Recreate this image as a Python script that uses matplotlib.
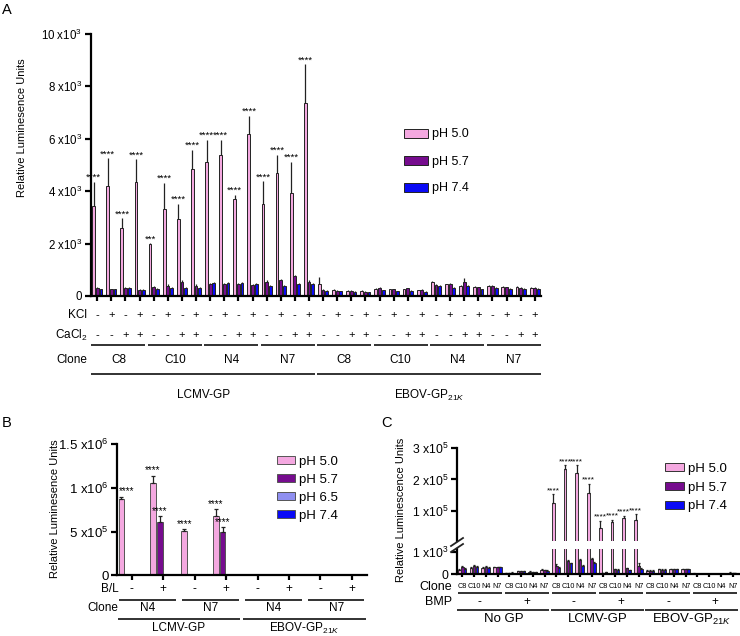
import matplotlib
matplotlib.use('Agg')
import matplotlib.pyplot as plt
import matplotlib.transforms as mtransforms
import numpy as np

plt.rcParams['font.family'] = 'Liberation Sans'
plt.rcParams['mathtext.fontset'] = 'custom'
plt.rcParams['mathtext.rm'] = 'Liberation Sans'
plt.rcParams['mathtext.it'] = 'Liberation Sans:italic'
plt.rcParams['mathtext.bf'] = 'Liberation Sans:bold'

W, H = 740, 636

PINK = '#f4a8e0'
PURPLE = '#760c8e'
PERI = '#8f8ff0'
BLUE = '#0a0af5'

# ---------------- panel A data (RLU) ----------------
a_kcl = ['-', '+', '-', '+']
a_cacl = ['-', '-', '+', '+']
a_clones = ['C8', 'C10', 'N4', 'N7', 'C8', 'C10', 'N4', 'N7']
a_gp = ['LCMV-GP', r'EBOV-GP$_{21K}$']
a_ph50 = [3430, 4200, 2610, 4360, 1990, 3310, 2920, 4840,
          5100, 5400, 3720, 6180, 3500, 4710, 3950, 7360,
          440, 230, 200, 190, 280, 250, 250, 220,
          530, 440, 380, 360, 380, 360, 360, 320]
a_ph50_err = [930, 1050, 350, 850, 20, 1010, 610, 730,
              850, 550, 130, 690, 880, 670, 1170, 1480,
              300, 20, 20, 20, 30, 20, 30, 20,
              30, 30, 30, 30, 30, 30, 30, 30]
a_ph57 = [300, 250, 300, 220, 350, 400, 550, 400,
          450, 450, 450, 420, 550, 600, 750, 550,
          230, 200, 200, 170, 320, 250, 290, 230,
          420, 440, 550, 330, 380, 330, 320, 320]
a_ph57_err = [40, 30, 40, 30, 40, 40, 60, 40,
              40, 40, 40, 40, 50, 60, 60, 50,
              30, 20, 20, 20, 30, 30, 30, 20,
              40, 40, 120, 30, 30, 30, 30, 30]
a_ph74 = [250, 250, 300, 220, 280, 320, 300, 300,
          480, 480, 500, 450, 380, 400, 450, 450,
          200, 180, 170, 150, 220, 180, 200, 170,
          380, 320, 380, 250, 300, 270, 270, 270]
a_ph74_err = [30, 30, 40, 30, 30, 30, 30, 30,
              40, 40, 40, 40, 30, 30, 30, 30,
              20, 20, 20, 20, 20, 20, 20, 20,
              30, 30, 30, 30, 30, 30, 30, 30]
a_stars = ['****', '****', '****', '****', '***', '****', '****', '****',
           '****', '****', '****', '****', '****', '****', '****', '****']

# ---------------- panel B data (RLU) ----------------
b_bl = ['-', '+', '-', '+', '-', '+', '-', '+']
b_clones = ['N4', 'N7', 'N4', 'N7']
b_gp = ['LCMV-GP', r'EBOV-GP$_{21K}$']
b_ph50 = [868000, 1059000, 506000, 678000, 1500, 1500, 1500, 1500]
b_ph50_err = [32000, 81000, 24000, 76000, 0, 0, 0, 0]
b_ph57 = [1500, 609000, 1500, 499000, 1000, 1000, 1000, 1000]
b_ph57_err = [0, 69000, 0, 49000, 0, 0, 0, 0]
b_ph65 = [1500, 4000, 1500, 2500, 1000, 1500, 1000, 1500]
b_ph65_err = [0, 0, 0, 0, 0, 0, 0, 0]
b_ph74 = [2000, 4000, 4000, 4000, 5000, 2000, 5000, 3000]
b_ph74_err = [0, 0, 0, 0, 0, 0, 0, 0]
b_stars50 = ['****', '****', '****', '****', '', '', '', '']
b_stars57 = ['', '****', '', '****', '', '', '', '']

# ---------------- panel C data (RLU) ----------------
c_clones = ['C8', 'C10', 'N4', 'N7']
c_bmp = ['-', '+', '-', '+', '-', '+']
c_gp = ['No GP', 'LCMV-GP', r'EBOV-GP$_{21K}$']
c_ph50 = [190, 290, 290, 310, 70, 130, 110, 210,
          126000, 232000, 220000, 157000, 46000, 66000, 78000, 72000,
          160, 230, 230, 230, 30, 20, 10, 80]
c_ph50_err = [40, 30, 30, 30, 10, 20, 20, 20,
              28000, 13000, 24000, 30000, 24000, 7000, 8000, 19000,
              20, 20, 20, 20, 10, 10, 5, 20]
c_ph57 = [320, 390, 330, 310, 70, 140, 100, 190,
          360, 610, 670, 710, 70, 240, 270, 360,
          160, 210, 230, 230, 20, 20, 10, 60]
c_ph57_err = [40, 30, 30, 30, 10, 20, 20, 20,
              90, 40, 30, 40, 10, 20, 20, 140,
              20, 20, 20, 20, 5, 5, 5, 20]
c_ph74 = [260, 340, 300, 310, 80, 140, 100, 160,
          290, 500, 400, 530, 100, 210, 190, 260,
          160, 210, 230, 230, 10, 20, 10, 40]
c_ph74_err = [30, 30, 30, 30, 10, 20, 20, 20,
              30, 30, 30, 40, 10, 20, 20, 30,
              20, 20, 20, 20, 5, 5, 5, 10]
c_stars = ['', '', '', '', '', '', '', '',
           '****', '****', '****', '****', '****', '****', '****', '****',
           '', '', '', '', '', '', '', '']

fig = plt.figure(figsize=(W / 100, H / 100), dpi=100)


def add_axes(left, top, right, bottom):
    return fig.add_axes([left / W, 1 - bottom / H, (right - left) / W, (bottom - top) / H])


def style(ax, lw=1.6):
    for s in ('top', 'right'):
        ax.spines[s].set_visible(False)
    ax.spines['left'].set_linewidth(lw)
    ax.spines['bottom'].set_linewidth(lw)
    ax.tick_params(width=lw, length=4, labelsize=9, direction='out', pad=2)
    ax.tick_params(axis='x', labelbottom=False, length=3.5)


def grouped_bars(ax, x, series, colors, offsets, width, edge, capsize):
    handles = []
    for (vals, err), col, off in zip(series, colors, offsets):
        err = np.asarray(err, dtype=float)
        h = ax.bar(x + off, vals, width, color=col, edgecolor=edge, linewidth=0.7,
                   yerr=[np.zeros_like(err), err],
                   error_kw=dict(ecolor='#222222', elinewidth=0.9,
                                 capsize=capsize, capthick=0.9))
        handles.append(h)
    return handles


def stars(ax, xs, vals, errs, labels, size=7, dx=0):
    for xx, v, e, lab in zip(xs, vals, errs, labels):
        if lab:
            ax.annotate(lab, (xx, v + e), xytext=(dx, 0), textcoords='offset points',
                        ha='center', va='bottom', fontsize=size, annotation_clip=False)


def below(ax, x, ypix, s, **kw):
    tr = mtransforms.blended_transform_factory(ax.transData, fig.transFigure)
    ax.text(x, 1 - ypix / H, s, transform=tr, ha='center', va='center', clip_on=False, **kw)


def bracket(ax, x0, x1, ypix, lw=1.3):
    tr = mtransforms.blended_transform_factory(ax.transData, fig.transFigure)
    ax.plot([x0, x1], [1 - ypix / H] * 2, transform=tr, color='#222222', lw=lw,
            clip_on=False, solid_capstyle='butt')


def side_label(xpix, ypix, s, size=8.5):
    fig.text(xpix / W, 1 - ypix / H, s, ha='right', va='center', fontsize=size)


def sci(v, e):
    return '0' if v == 0 else '%g x10$^{%d}$' % (v, e)


# ======================= A =======================
axA = add_axes(90.5, 34, 540.7, 296)
style(axA)
xa = np.arange(len(a_ph50))
hA = grouped_bars(axA, xa, [(a_ph50, a_ph50_err), (a_ph57, a_ph57_err), (a_ph74, a_ph74_err)],
                  [PINK, PURPLE, BLUE], [-0.26, 0.0, 0.26], 0.2, '#222222', 0)
stars(axA, xa[:16] - 0.26, a_ph50[:16], a_ph50_err[:16], a_stars, size=6.8)
axA.set_xlim(-0.48, 31.42)
axA.set_ylim(0, 10000)
axA.set_xticks(xa)
yt = [0, 2, 4, 6, 8, 10]
axA.set_yticks([v * 1000 for v in yt])
axA.set_yticklabels([sci(v, 3) for v in yt], fontsize=8.3)
axA.legend(hA, ['pH 5.0', 'pH 5.7', 'pH 7.4'], loc='upper left',
           bbox_to_anchor=(404 / W, 1 - 128.5 / H), bbox_transform=fig.transFigure,
           frameon=False, fontsize=9, handlelength=1.9, handleheight=0.72,
           handletextpad=0.3, labelspacing=1.2, borderpad=0, borderaxespad=0)

for i in xa:
    below(axA, i, 315, a_kcl[i % 4], fontsize=8)
    below(axA, i, 335, a_cacl[i % 4], fontsize=8)
for j, name in enumerate(a_clones):
    bracket(axA, 4 * j - 0.41, 4 * j + 3 + 0.41, 344.5)
    below(axA, 4 * j + 1.5, 360, name, fontsize=8.5)
for k, name in enumerate(a_gp):
    bracket(axA, 16 * k - 0.45, 16 * k + 15 + 0.45, 374)
    below(axA, 16 * k + 7.5, 395, name, fontsize=8.5)
side_label(87, 315, 'KCl')
side_label(87, 335, r'CaCl$_2$')
side_label(87, 360, 'Clone')
fig.text(21.7 / W, 1 - 128 / H, 'Relative Luminesence Units', rotation=90,
         ha='center', va='center', fontsize=8)
fig.text(7 / W, 1 - 10 / H, 'A', ha='center', va='center', fontsize=10.5)

# ======================= B =======================
axB = add_axes(117, 444, 367, 575.3)
style(axB)
xb = np.arange(len(b_ph50))
hB = grouped_bars(axB, xb, [(b_ph50, b_ph50_err), (b_ph57, b_ph57_err),
                            (b_ph65, b_ph65_err), (b_ph74, b_ph74_err)],
                  [PINK, PURPLE, PERI, BLUE], [-0.33, -0.11, 0.11, 0.33], 0.18, '#555555', 1.5)
stars(axB, xb[:1] - 0.33, b_ph50[:1], b_ph50_err[:1], b_stars50[:1], dx=4)
stars(axB, xb[1:] - 0.33, b_ph50[1:], b_ph50_err[1:], b_stars50[1:])
stars(axB, xb - 0.11, b_ph57, b_ph57_err, b_stars57)
axB.set_xlim(-0.47, 7.48)
axB.set_ylim(0, 1.5e6)
axB.set_xticks(xb)
axB.set_yticks([0, 5e5, 1e6, 1.5e6])
axB.set_yticklabels(['0', sci(5, 5), sci(1, 6), sci(1.5, 6)], fontsize=9.5)
axB.legend(hB, ['pH 5.0', 'pH 5.7', 'pH 6.5', 'pH 7.4'], loc='upper left',
           bbox_to_anchor=(276.5 / W, 1 - 456 / H), bbox_transform=fig.transFigure,
           frameon=False, fontsize=9.5, handlelength=1.4, handleheight=0.55,
           handletextpad=0.3, labelspacing=0.45, borderpad=0, borderaxespad=0)
for i in xb:
    below(axB, i, 589.3, b_bl[i], fontsize=8.5)
for j, name in enumerate(b_clones):
    bracket(axB, 2 * j - 0.4, 2 * j + 1 + 0.4, 600)
    below(axB, 2 * j + 0.5, 608.3, name, fontsize=8.5)
for k, name in enumerate(b_gp):
    bracket(axB, 4 * k - 0.45, 4 * k + 3 + 0.45, 619)
    below(axB, 4 * k + 1.5, 628.3, name, fontsize=8.5)
side_label(119, 589.3, 'B/L')
side_label(118, 608.3, 'Clone')
fig.text(55 / W, 1 - 509 / H, 'Relative Luminesence Units', rotation=90,
         ha='center', va='center', fontsize=8)
fig.text(7 / W, 1 - 423 / H, 'B', ha='center', va='center', fontsize=10.5)

# ======================= C =======================
axCt = add_axes(457, 447.7, 740, 541)
axCb = add_axes(457, 549, 740, 574.3)
style(axCt)
style(axCb)
axCt.spines['bottom'].set_visible(False)
axCt.tick_params(axis='x', length=0)
xc = np.arange(len(c_ph50))
c_series = [(c_ph50, c_ph50_err), (c_ph57, c_ph57_err), (c_ph74, c_ph74_err)]
for ax in (axCt, axCb):
    hC = grouped_bars(ax, xc, c_series, [PINK, PURPLE, BLUE], [-0.26, 0.0, 0.24], 0.22,
                      '#333333', 0.8)
    ax.set_xlim(-0.45, 23.63)
    ax.set_xticks(xc)
stars(axCt, xc - 0.26, c_ph50, c_ph50_err, c_stars, size=6)
axCt.set_ylim(6000, 3e5)
axCt.set_yticks([1e5, 2e5, 3e5])
axCt.set_yticklabels([sci(1, 5), sci(2, 5), sci(3, 5)], fontsize=8.8)
axCb.set_ylim(0, 1150)
axCb.set_yticks([0, 1000])
axCb.set_yticklabels(['0', sci(1, 3)], fontsize=8.8)
axCb.tick_params(axis='x', length=2.5)
axCt.legend(hC, ['pH 5.0', 'pH 5.7', 'pH 7.4'], loc='upper left',
            bbox_to_anchor=(664.5 / W, 1 - 463 / H), bbox_transform=fig.transFigure,
            frameon=False, fontsize=9.5, handlelength=1.5, handleheight=0.55,
            handletextpad=0.3, labelspacing=0.5, borderpad=0, borderaxespad=0)
for x0, y0, x1, y1 in [(451, 546, 463, 538), (451, 552, 463, 544)]:
    fig.add_artist(plt.Line2D([x0 / W, x1 / W], [1 - y0 / H, 1 - y1 / H],
                              transform=fig.transFigure, color='#222222', lw=1.3))
for i in xc:
    below(axCb, i, 587, c_clones[i % 4], fontsize=5.2)
for j, sign in enumerate(c_bmp):
    bracket(axCb, 4 * j - 0.4, 4 * j + 3 + 0.4, 593)
    below(axCb, 4 * j + 1.5, 602, sign, fontsize=8.5)
for k, name in enumerate(c_gp):
    bracket(axCb, 8 * k - 0.42, 8 * k + 7 + 0.42, 610)
    below(axCb, 8 * k + 3.5, 619.5, name, fontsize=9.5)
side_label(452, 587, 'Clone', size=9)
side_label(452, 602, 'BMP', size=9)
fig.text(401 / W, 1 - 510 / H, 'Relative Luminescence Units', rotation=90,
         ha='center', va='center', fontsize=8)
fig.text(386 / W, 1 - 423 / H, 'C', ha='center', va='center', fontsize=10.5)

fig.savefig('out.png', dpi=100)
